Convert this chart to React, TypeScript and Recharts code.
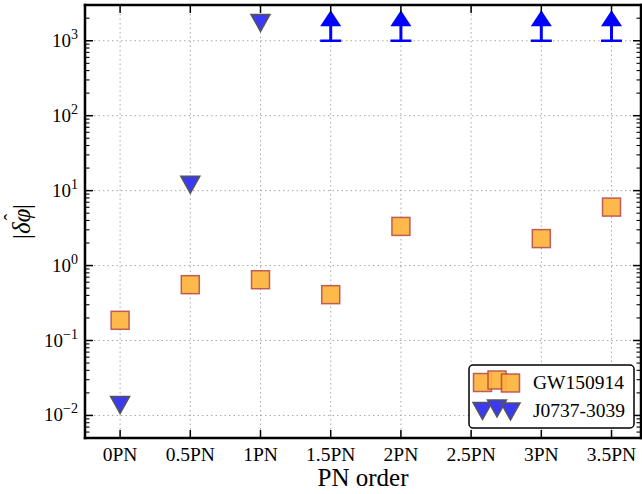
import { ScatterChart, Scatter, XAxis, YAxis, CartesianGrid, ErrorBar } from "recharts";

const FONT = "Liberation Serif, Times New Roman, serif";

// PN orders along the x axis
const categories = ["0PN", "0.5PN", "1PN", "1.5PN", "2PN", "2.5PN", "3PN", "3.5PN"];
// GW150914 bounds
const gwValues: (number | null)[] = [0.186, 0.556, 0.647, 0.409, 3.33, null, 2.29, 6.03];
// J0737-3039 bounds (down triangles)
const pulsarBounds: (number | null)[] = [0.0138, 12.0, 1730, null, null, null, null, null];
// J0737-3039 lower-limit arrows (caret tops), floor of the bar
const pulsarArrowTops: (number | null)[] = [null, null, null, 2000, 2000, null, 2000, 2000];
const pulsarArrowFloor = 1000;

const decades = [0.01, 0.1, 1, 10, 100, 1000];
const decadeLabels = ["\u22122", "\u22121", "0", "1", "2", "3"];
const minorSteps = [2, 3, 4, 5, 6, 7, 8, 9];
const yDomain: [number, number] = [0.005, 3000];
const xDomain: [number, number] = [-0.5, 7.42];

const xTicks = categories.map((_, i) => i);
const minorTicks = [0.001, ...decades]
  .flatMap((d) => minorSteps.map((s) => d * s))
  .filter((v) => v >= yDomain[0] * 0.999 && v <= yDomain[1] * 1.001);
const yTicks = [...decades, ...minorTicks].sort((a, b) => a - b);

const gwData = gwValues
  .map((y, i) => ({ x: i, y }))
  .filter((d) => d.y != null);
const boundData = pulsarBounds
  .map((y, i) => ({ x: i, y }))
  .filter((d) => d.y != null);
const arrowData = pulsarArrowTops
  .map((y, i) => ({ x: i, y }))
  .filter((d) => d.y != null);
const floorData = pulsarArrowTops
  .map((top, i) => ({
    x: i,
    y: pulsarArrowFloor,
    err: top == null ? null : [0, top - pulsarArrowFloor],
  }))
  .filter((d) => d.err != null);

const majorIndex = (v: number) => decades.findIndex((d) => Math.abs(v / d - 1) < 1e-6);

function LeftTick({ x, y, payload }: any) {
  const idx = majorIndex(payload.value);
  const major = idx >= 0;
  return (
    <g>
      <line x1={x} x2={x + (major ? 8 : 4.5)} y1={y} y2={y} stroke="#000" strokeWidth={major ? 1.5 : 1.1} />
      {major && (
        <text x={x - 7} y={y + 6} textAnchor="end" fontFamily={FONT} fontSize={19} fill="#000">
          10
          <tspan dy={-8} fontSize={14}>
            {decadeLabels[idx]}
          </tspan>
        </text>
      )}
    </g>
  );
}

function RightTick({ x, y, payload }: any) {
  const major = majorIndex(payload.value) >= 0;
  return <line x1={x} x2={x - (major ? 8 : 4.5)} y1={y} y2={y} stroke="#000" strokeWidth={major ? 1.5 : 1.1} />;
}

function BottomTick({ x, y, payload }: any) {
  return (
    <g>
      <line x1={x} x2={x} y1={y} y2={y - 8} stroke="#000" strokeWidth={1.5} />
      <text x={x} y={y + 23} textAnchor="middle" fontFamily={FONT} fontSize={19.5} fill="#000">
        {categories[payload.value]}
      </text>
    </g>
  );
}

function TopTick({ x, y }: any) {
  return <line x1={x} x2={x} y1={y} y2={y + 8} stroke="#000" strokeWidth={1.5} />;
}

function Square({ cx, cy }: any) {
  return <rect x={cx - 9} y={cy - 9} width={18} height={18} fill="#fdb33a" fillOpacity={0.92} stroke="#b4474b" strokeOpacity={0.85} strokeWidth={1.5} />;
}

function DownTriangle({ cx, cy }: any) {
  return (
    <path
      d={`M${cx - 9.5},${cy - 8.5}L${cx + 9.5},${cy - 8.5}L${cx},${cy + 8.5}Z`}
      fill="#3a3af5"
      stroke="#555"
      strokeWidth={1.5}
    />
  );
}

function UpTriangle({ cx, cy }: any) {
  return <path d={`M${cx - 10.5},${cy + 8}L${cx + 10.5},${cy + 8}L${cx},${cy - 8}Z`} fill="#0000ff" />;
}

function Cap({ cx, cy }: any) {
  return <line x1={cx - 10.5} x2={cx + 10.5} y1={cy} y2={cy} stroke="#0000ff" strokeWidth={2.5} />;
}

function YLabel({ viewBox }: any) {
  const x = viewBox.x + 21;
  const y = viewBox.y + viewBox.height / 2;
  return (
    <text
      x={x}
      y={y}
      transform={`rotate(-90 ${x} ${y})`}
      textAnchor="middle"
      dominantBaseline="central"
      fontFamily={FONT}
      fontSize={25}
      fill="#000"
    >
      |<tspan fontStyle="italic">δφ</tspan>
      <tspan dx={-12} dy={-9} fontSize={20}>
        ˆ
      </tspan>
      <tspan dx={5} dy={9}>
        |
      </tspan>
    </text>
  );
}

function LegendBox() {
  return (
    <svg width={168} height={66} style={{ position: "absolute", left: 468, top: 364 }}>
      <rect x={1} y={1} width={165} height={63} rx={4} fill="#fff" stroke="#000" strokeWidth={1.5} />
      <Square cx={14.5} cy={18.5} />
      <Square cx={29} cy={16} />
      <Square cx={42.5} cy={19} />
      <DownTriangle cx={14.5} cy={47} />
      <DownTriangle cx={29} cy={44.5} />
      <DownTriangle cx={42.5} cy={47.5} />
      <text x={65} y={25} fontFamily={FONT} fontSize={19.5} fill="#000">
        GW150914
      </text>
      <text x={65} y={53} fontFamily={FONT} fontSize={19.5} fill="#000">
        J0737-3039
      </text>
    </svg>
  );
}

const axisLine = { stroke: "#000", strokeWidth: 2.5, strokeLinecap: "square" as const };

export default function App() {
  return (
    <div style={{ position: "absolute", left: 0, top: 0, width: 642, height: 494, background: "#fff" }}>
      <ScatterChart width={642} height={494} margin={{ top: 0, right: 0, bottom: 0, left: 0 }}>
        <CartesianGrid
          horizontalValues={decades}
          verticalValues={xTicks}
          stroke="#a8a8a8"
          strokeDasharray="1.5 3"
          strokeWidth={1}
        />
        <XAxis
          xAxisId={0}
          dataKey="x"
          type="number"
          domain={xDomain}
          allowDataOverflow
          ticks={xTicks}
          interval={0}
          height={56}
          tickSize={0}
          tickMargin={0}
          tick={<BottomTick />}
          axisLine={axisLine}
          tickLine={false}
          label={{ value: "PN order", position: "insideBottom", offset: 8, fontSize: 25, fontFamily: FONT, fill: "#000" }}
        />
        <XAxis
          xAxisId="top"
          orientation="top"
          dataKey="x"
          type="number"
          domain={xDomain}
          allowDataOverflow
          ticks={xTicks}
          interval={0}
          height={5}
          tickSize={0}
          tickMargin={0}
          tick={<TopTick />}
          axisLine={axisLine}
          tickLine={false}
        />
        <YAxis
          yAxisId={0}
          dataKey="y"
          type="number"
          scale="log"
          domain={yDomain}
          allowDataOverflow
          ticks={yTicks}
          interval={0}
          width={85}
          tickSize={0}
          tickMargin={0}
          tick={<LeftTick />}
          axisLine={axisLine}
          tickLine={false}
          label={{ content: <YLabel /> }}
        />
        <YAxis
          yAxisId="right"
          orientation="right"
          dataKey="y"
          type="number"
          scale="log"
          domain={yDomain}
          allowDataOverflow
          ticks={yTicks}
          interval={0}
          width={1}
          tickSize={0}
          tickMargin={0}
          tick={<RightTick />}
          axisLine={axisLine}
          tickLine={false}
        />
        <Scatter name="J0737 floor" data={floorData} shape={<Cap />} isAnimationActive={false}>
          <ErrorBar dataKey="err" direction="y" width={0} stroke="#0000ff" strokeWidth={3} />
        </Scatter>
        <Scatter
          name="J0737 arrows"
          data={arrowData}
          xAxisId="top"
          yAxisId="right"
          shape={<UpTriangle />}
          isAnimationActive={false}
        />
        <Scatter name="GW150914" data={gwData} shape={<Square />} isAnimationActive={false} />
        <Scatter name="J0737-3039" data={boundData} shape={<DownTriangle />} isAnimationActive={false} />
      </ScatterChart>
      <LegendBox />
    </div>
  );
}
